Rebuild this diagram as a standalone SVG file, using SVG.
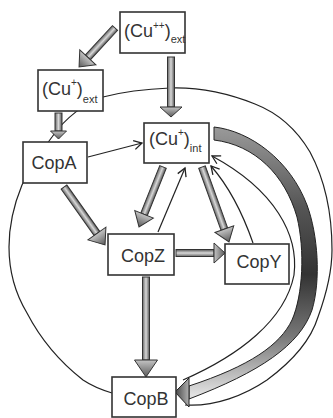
<svg xmlns="http://www.w3.org/2000/svg" width="333" height="418" viewBox="0 0 333 418">
<defs>
<linearGradient id="shaft" x1="0" y1="0" x2="0" y2="1">
<stop offset="0" stop-color="#555"/><stop offset="0.5" stop-color="#d8d8d8"/><stop offset="1" stop-color="#666"/>
</linearGradient>
<linearGradient id="head" x1="0" y1="0" x2="1" y2="0">
<stop offset="0" stop-color="#c4c4c4"/><stop offset="1" stop-color="#5a5a5a"/>
</linearGradient>
<linearGradient id="band" gradientUnits="userSpaceOnUse" x1="0" y1="127" x2="0" y2="395">
<stop offset="0" stop-color="#9a9a9a"/><stop offset="0.3" stop-color="#555"/><stop offset="0.55" stop-color="#333"/><stop offset="0.78" stop-color="#777"/><stop offset="1" stop-color="#e2e2e2"/>
</linearGradient>
<linearGradient id="bandhead" x1="0" y1="0" x2="1" y2="0">
<stop offset="0" stop-color="#444"/><stop offset="1" stop-color="#b0b0b0"/>
</linearGradient>
<marker id="open" viewBox="-10 -6 12 12" refX="0" refY="0" markerWidth="12" markerHeight="12" markerUnits="userSpaceOnUse" orient="auto" overflow="visible">
<path d="M-8,-4.5 L0,0 L-8,4.5" fill="none" stroke="#222" stroke-width="1.3"/>
</marker>
</defs>
<style>
.box{fill:#fff;stroke:#333;stroke-width:1.6}
.t{font-family:"Liberation Sans",Arial,sans-serif;font-size:18px;fill:#333}
.sup{font-size:10px}
.sub{font-size:11px}
.thin{fill:none;stroke:#222;stroke-width:1.2}
.sh{fill:url(#shaft);stroke:#333;stroke-width:1}
.hd{fill:url(#head);stroke:#333;stroke-width:1;stroke-linejoin:miter}
.mem{fill:none;stroke:#222;stroke-width:1.2}
</style>
<rect width="333" height="418" fill="#fff"/>
<path id="membrane" class="mem" d="M185,405 C215,407 245,395 267,380 C290,363 310,343 318,317 C326,295 332,272 332,250 C332,215 325,180 310,152 C297,130 278,113 255,104 C230,94 200,87 170,88 C145,89 122,92 103,97 C85,103 65,118 52,137 C42,150 30,168 22,185 C15,202 9,225 9,247 C9,270 15,293 27,313 C40,338 60,362 83,380 C92,386 102,390 112,393"/>
<g id="connectors">
<path class="thin" d="M183,380 C240,355 285,320 294,275 C299,235 275,190 212,156" marker-end="url(#open)"/>
<path class="thin" d="M253,243 C245,220 232,190 211,166" marker-end="url(#open)"/>
<path class="thin" d="M88,157 L142,143" marker-end="url(#open)"/>
<path class="thin" d="M158,232 L185,168" marker-end="url(#open)"/>
<path d="M214,127 C250,131 290,160 307,205 C318,235 321,280 312,310 C300,345 260,372 189,399 L189,386 C250,366 280,345 292,320 C303,295 305,250 297,217 C285,175 255,145 214,140 Z" fill="url(#band)" stroke="#222" stroke-width="1"/>
<polygon points="175,392 189,378 189,407" fill="url(#bandhead)" stroke="#222" stroke-width="1"/>
<g transform="translate(115,28) rotate(132.7)"><rect class="sh" x="0" y="-3.5" width="40" height="7"/><polygon class="hd" points="40,-11 53,0 40,11"/></g>
<g transform="translate(171,57) rotate(90)"><rect class="sh" x="0" y="-3.5" width="50" height="7"/><polygon class="hd" points="50,-11 60,0 50,11"/></g>
<g transform="translate(58.5,113) rotate(90)"><rect class="sh" x="0" y="-3.5" width="18" height="7"/><polygon class="hd" points="18,-8 26,0 18,8"/></g>
<g transform="translate(64,187) rotate(54.7)"><rect class="sh" x="0" y="-3.5" width="57" height="7"/><polygon class="hd" points="57,-11 71,0 57,11"/></g>
<g transform="translate(163,167) rotate(111.8)"><rect class="sh" x="0" y="-3.5" width="51" height="7"/><polygon class="hd" points="51,-10 64.6,0 51,10"/></g>
<g transform="translate(202,167) rotate(70.2)"><rect class="sh" x="0" y="-3.5" width="66" height="7"/><polygon class="hd" points="66,-10 79.7,0 66,10"/></g>
<g transform="translate(176,253)"><rect class="sh" x="0" y="-3.5" width="38" height="7"/><polygon class="hd" points="38,-10 49,0 38,10"/></g>
<g transform="translate(146,277) rotate(90)"><rect class="sh" x="0" y="-3.5" width="83" height="7"/><polygon class="hd" points="83,-11.5 100,0 83,11.5"/></g>
</g>
<g id="cuppext"><rect class="box" x="120" y="12" width="65" height="41"/><text class="t" x="124" y="37">(Cu<tspan class="sup" dy="-8">++</tspan><tspan dy="8">)</tspan><tspan class="sub" dy="6">ext</tspan></text></g>
<g id="cupext"><rect class="box" x="38" y="70" width="65" height="41"/><text class="t" x="42" y="95">(Cu<tspan class="sup" dy="-9">+</tspan><tspan dy="9">)</tspan><tspan class="sub" dy="8">ext</tspan></text></g>
<g id="cupint"><rect class="box" x="144" y="123" width="65" height="40"/><text class="t" x="149" y="145">(Cu<tspan class="sup" dy="-9">+</tspan><tspan dy="9">)</tspan><tspan class="sub" dy="7">int</tspan></text></g>
<g id="copa"><rect class="box" x="23" y="142" width="64" height="41"/><text class="t" x="54" y="169" text-anchor="middle">CopA</text></g>
<g id="copz"><rect class="box" x="108" y="234" width="66" height="41"/><text class="t" x="143" y="262" text-anchor="middle">CopZ</text></g>
<g id="copy"><rect class="box" x="225" y="244" width="64" height="40"/><text class="t" x="259" y="268" text-anchor="middle">CopY</text></g>
<g id="copb"><rect class="box" x="112" y="377" width="64" height="40"/><text class="t" x="146" y="405" text-anchor="middle">CopB</text></g>
</svg>
